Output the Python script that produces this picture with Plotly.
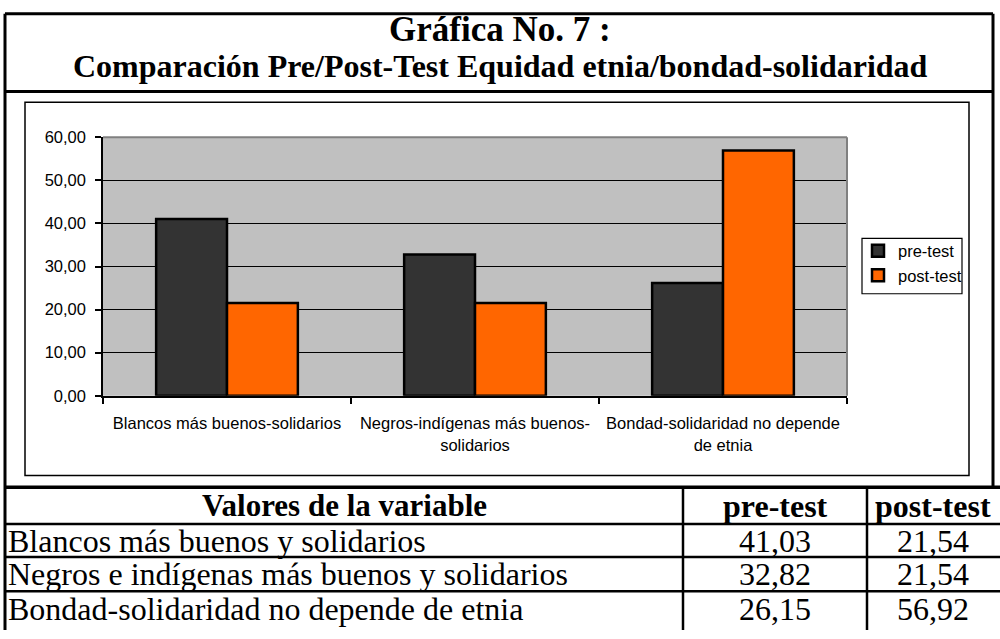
import plotly.graph_objects as go

W, H = 1000, 639

# ---- data ----
chart_labels = [
    "Blancos más buenos-solidarios",
    "Negros-indígenas más buenos-<br>solidarios",
    "Bondad-solidaridad no depende<br>de etnia",
]
table_labels = [
    "Blancos más buenos y solidarios",
    "Negros e indígenas más buenos y solidarios",
    "Bondad-solidaridad no depende de etnia",
]
series_names = ["pre-test", "post-test"]
pre_test = [41.03, 32.82, 26.15]
post_test = [21.54, 21.54, 56.92]
y_ticks = [0, 10, 20, 30, 40, 50, 60]
title_line1 = "Gráfica No. 7 :"
title_line2 = "Comparación Pre/Post-Test Equidad etnia/bondad-solidaridad"
table_header = "Valores de la variable"


def px(x):
    return x / W


def py(y):
    return 1 - y / H


def fmt(v):
    return f"{v:.2f}".replace(".", ",")


SANS = "Liberation Sans, Arial, sans-serif"
SERIF = "Liberation Serif, Times New Roman, serif"

fig = go.Figure()
fig.add_trace(go.Bar(
    x=chart_labels, y=pre_test, name=series_names[0],
    marker=dict(color="#333333", line=dict(color="black", width=2.5)),
))
fig.add_trace(go.Bar(
    x=chart_labels, y=post_test, name=series_names[1],
    marker=dict(color="#FF6600", line=dict(color="black", width=2.5)),
))

shapes = []


def line(x0, y0, x1, y1, w=2, color="black"):
    shapes.append(dict(type="line", xref="paper", yref="paper",
                       x0=px(x0), y0=py(y0), x1=px(x1), y1=py(y1),
                       line=dict(color=color, width=w)))


def rect(x0, y0, x1, y1, w=1.5, color="black"):
    shapes.append(dict(type="rect", xref="paper", yref="paper",
                       x0=px(x0), y0=py(y1), x1=px(x1), y1=py(y0),
                       line=dict(color=color, width=w)))


# outer frame
line(5, 5, 5, 639, 3)
line(5, 5, 993, 5, 3)
line(993, 5, 993, 492, 3)
line(5, 85, 993, 85, 3)
line(5, 492, 1000, 492, 3.5)
# chart area frame
rect(25, 96, 969, 480, 1.5)
# plot area border (top/right gray)
line(103, 132, 847, 132, 2, "#808080")
line(847, 132, 847, 398, 2, "#808080")
# legend box
rect(862, 236, 962, 293, 1.2)
# table grid
line(683, 492, 683, 639, 2.5)
line(867, 492, 867, 639, 2.5)
for yy in (530, 564, 599):
    line(5, yy, 1000, yy, 2.5)

annotations = []


def text(x, y, s, size, family, xanchor="center", bold=False):
    annotations.append(dict(
        xref="paper", yref="paper", x=px(x), y=py(y), text=(f"<b>{s}</b>" if bold else s),
        showarrow=False, xanchor=xanchor, yanchor="middle",
        font=dict(family=family, size=size, color="black")))


text(500, 21, title_line1, 35, SERIF, bold=True)
text(500, 59, title_line2, 32, SERIF, bold=True)

text(344, 511, table_header, 31, SERIF, bold=True)
text(775, 511, series_names[0], 32, SERIF, bold=True)
text(933, 511, series_names[1], 32, SERIF, bold=True)
row_y = [547, 581, 617]
for i in range(3):
    text(6, row_y[i], table_labels[i], 32, SERIF, xanchor="left")
    text(775, row_y[i], fmt(pre_test[i]), 32, SERIF)
    text(933, row_y[i], fmt(post_test[i]), 32, SERIF)

fig.update_layout(
    width=W, height=H,
    margin=dict(l=0, r=0, t=0, b=0),
    paper_bgcolor="white", plot_bgcolor="#C0C0C0",
    separators=",.",
    barmode="group", bargap=1.5 / 3.5, bargroupgap=0,
    showlegend=True,
    xaxis=dict(
        domain=[px(103), px(847)], type="category",
        showline=True, linecolor="black", linewidth=1.5,
        ticks="outside", tickson="boundaries", ticklen=6, tickcolor="black", tickwidth=1.5,
        tickfont=dict(family=SANS, size=16.5, color="black"),
        ticklabelstandoff=12, showgrid=False, fixedrange=True,
    ),
    yaxis=dict(
        domain=[py(398), py(132)], range=[0, 60],
        tickmode="array", tickvals=y_ticks, tickformat=".2f",
        showline=True, linecolor="black", linewidth=1.5,
        ticks="outside", ticklen=6, tickcolor="black", tickwidth=1.5,
        showgrid=True, gridcolor="black", gridwidth=1, zeroline=False,
        tickfont=dict(family=SANS, size=16.5, color="black"),
        ticklabelstandoff=6, fixedrange=True,
    ),
    legend=dict(
        x=px(858), y=py(231), xanchor="left", yanchor="top",
        bgcolor="rgba(0,0,0,0)", borderwidth=0,
        font=dict(family=SANS, size=16.5, color="black"),
        itemclick=False, itemdoubleclick=False,
    ),
    shapes=shapes,
    annotations=annotations,
)

fig.write_html(
    "out.html",
    config={"displayModeBar": False},
    post_script="document.body.style.margin='0';document.body.style.overflow='hidden';",
)
